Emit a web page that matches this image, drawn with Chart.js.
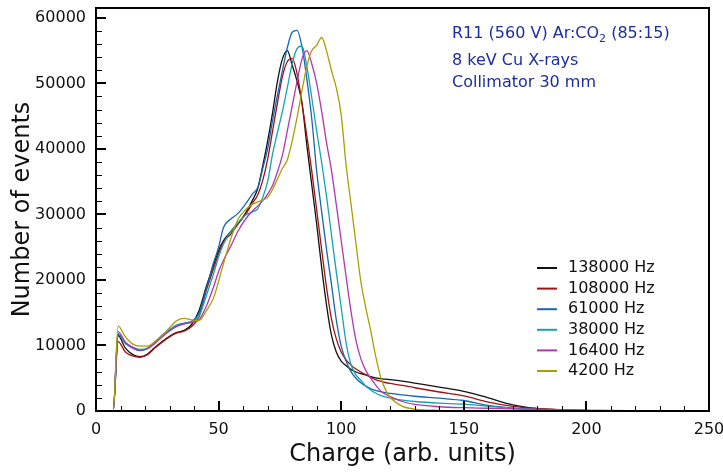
<!DOCTYPE html>
<html>
<head>
<meta charset="utf-8">
<script src="https://cdn.jsdelivr.net/npm/chart.js@4.4.1/dist/chart.umd.min.js"></script>
<style>
  html, body { margin: 0; padding: 0; background: #fff; }
  #wrap { width: 723px; height: 473px; }
</style>
</head>
<body>
<div id="wrap"><canvas id="myChart"></canvas></div>
<script>
// charge axis (arb. units), shared by all series
const charge = [0, 7, 9, 12, 15, 18, 21, 24, 27, 30, 33, 36, 39, 42, 45, 48, 50, 52, 55, 58,
  61, 64, 66, 68, 70, 72, 74, 76, 78, 80, 82, 84, 86, 88, 90, 92, 94, 96, 98, 100,
  102, 104, 106, 108, 110, 112, 114, 116, 118, 120, 125, 130, 140, 150, 160, 170, 180, 190, 200, 220, 250];

const hz138000 = [0, 0, 11500, 9600, 8600, 8300, 8700, 9700, 10600, 11400, 12000, 12300, 13200, 15300, 19000, 22300, 24500, 26000, 27400, 28600,
  30200, 32300, 34000, 37400, 41200, 45500, 50300, 53700, 55000, 52800, 50300, 47000, 40500, 34500, 28500, 22000, 16200, 11600, 9000, 7600,
  6900, 6350, 5950, 5700, 5500, 5250, 5050, 4950, 4850, 4780, 4550, 4250, 3650, 3000, 2000, 950, 380, 150, 70, 20, 0];

const hz108000 = [0, 0, 10600, 9000, 8400, 8200, 8600, 9600, 10500, 11300, 11900, 12200, 12900, 14400, 18400, 21800, 24000, 25800, 27000, 28600,
  30000, 31800, 33000, 35200, 38400, 42700, 47000, 51000, 53300, 53800, 51500, 47000, 42000, 36600, 30700, 24700, 18900, 14100, 11000, 9000,
  7800, 7000, 6400, 5950, 5550, 5150, 4800, 4550, 4350, 4200, 3900, 3550, 2900, 2300, 1350, 700, 350, 180, 90, 30, 0];

const hz61000 = [0, 0, 11700, 10300, 9600, 9200, 9500, 10500, 11600, 12400, 13100, 13400, 13700, 14900, 18700, 22700, 25000, 28000, 29300, 30200,
  31600, 33200, 34100, 37000, 40000, 44300, 48200, 51900, 55400, 57800, 58100, 55600, 50600, 44600, 36600, 30500, 24700, 19400, 13900, 9900,
  7600, 6000, 5000, 4300, 3800, 3400, 3150, 2950, 2800, 2680, 2450, 2250, 1950, 1600, 850, 450, 230, 120, 60, 20, 0];

const hz38000 = [0, 0, 11800, 10400, 9700, 9400, 9600, 10400, 11400, 12300, 13000, 13300, 13600, 14400, 17600, 21000, 23500, 25500, 27400, 28800,
  29900, 30400, 30900, 32600, 35000, 39200, 42500, 45700, 49300, 53000, 55300, 55700, 52500, 47800, 42700, 38000, 32800, 27000, 21200, 15800,
  10400, 7100, 5500, 4700, 3800, 3200, 2750, 2400, 2150, 1950, 1650, 1450, 1200, 1050, 700, 420, 240, 130, 70, 20, 0];

const hz16400 = [0, 0, 12100, 10500, 9700, 9300, 9500, 10300, 11300, 12200, 12900, 13300, 13500, 13900, 16000, 19000, 21300, 23000, 25200, 27500,
  29300, 30600, 31300, 32100, 33100, 34400, 36500, 39000, 42700, 46500, 50300, 53700, 55000, 53000, 50000, 45800, 41000, 36800, 31500, 26000,
  20500, 15200, 10800, 8000, 6200, 5000, 4000, 3100, 2550, 2200, 1450, 1000, 650, 500, 420, 330, 250, 170, 100, 40, 0];

const hz4200 = [0, 0, 13000, 11300, 10200, 9900, 9900, 10600, 11500, 12700, 13800, 14150, 13900, 13800, 15300, 17300, 19800, 22500, 26300, 29300,
  30700, 31600, 31900, 32200, 32600, 33800, 35400, 37000, 38300, 41200, 44800, 48900, 52600, 55000, 55800, 57000, 55000, 52000, 49300, 45200,
  37500, 31600, 25600, 19800, 15800, 12300, 8500, 5300, 3300, 2100, 700, 300, 100, 50, 30, 20, 10, 5, 0, 0, 0];

const seriesLabels = ['138000 Hz', '108000 Hz', '61000 Hz', '38000 Hz', '16400 Hz', '4200 Hz'];
const seriesValues = [hz138000, hz108000, hz61000, hz38000, hz16400, hz4200];
const seriesColors = ['#111111', '#a31212', '#1766b2', '#17a2ac', '#b436ae', '#a9a002'];

const xTicks = [0, 50, 100, 150, 200, 250];
const yTicks = [0, 10000, 20000, 30000, 40000, 50000, 60000];

const annotationLines = ['R11 (560 V) Ar:CO', '8 keV Cu X-rays', 'Collimator 30 mm'];

const FONT = '"DejaVu Sans", "Liberation Sans", sans-serif';

// frame, inward ticks, legend and note drawn on top of the plot
const decorations = {
  id: 'decorations',
  afterDatasetsDraw(chart) {
    const { ctx, chartArea: a, scales: { x, y } } = chart;
    ctx.save();

    // inward ticks
    ctx.strokeStyle = '#000';
    ctx.lineWidth = 1;
    ctx.beginPath();
    for (let v = 0; v <= 250; v += 10) {
      if (v % 50 === 0) continue;
      const px = Math.round(x.getPixelForValue(v)) + 0.5;
      ctx.moveTo(px, a.bottom); ctx.lineTo(px, a.bottom - 5);
    }
    for (let v = 0; v <= 60000; v += 2000) {
      if (v % 10000 === 0) continue;
      const py = Math.round(y.getPixelForValue(v)) + 0.5;
      ctx.moveTo(a.left, py); ctx.lineTo(a.left + 6, py);
    }
    ctx.stroke();
    ctx.lineWidth = 2;
    ctx.beginPath();
    xTicks.forEach(v => {
      const px = Math.round(x.getPixelForValue(v));
      ctx.moveTo(px, a.bottom); ctx.lineTo(px, a.bottom - 10);
    });
    yTicks.forEach(v => {
      const py = Math.round(y.getPixelForValue(v));
      ctx.moveTo(a.left, py); ctx.lineTo(a.left + 10, py);
    });
    ctx.stroke();

    // frame
    ctx.lineWidth = 2;
    ctx.strokeRect(a.left, a.top, a.right - a.left, a.bottom - a.top);

    // legend
    ctx.font = '16px ' + FONT;
    ctx.textBaseline = 'middle';
    ctx.textAlign = 'left';
    seriesLabels.forEach((lab, i) => {
      const ly = 268 + i * 20.6;
      ctx.strokeStyle = seriesColors[i];
      ctx.lineWidth = 2;
      ctx.beginPath();
      ctx.moveTo(537, ly); ctx.lineTo(557, ly);
      ctx.stroke();
      ctx.fillStyle = '#111';
      ctx.fillText(lab, 568, ly);
    });

    // note
    ctx.fillStyle = '#1d2f9c';
    ctx.font = '16px ' + FONT;
    const nx = 452;
    ctx.fillText(annotationLines[0], nx, 34);
    let w = ctx.measureText(annotationLines[0]).width;
    ctx.font = '11px ' + FONT;
    ctx.fillText('2', nx + w, 39);
    w += ctx.measureText('2').width;
    ctx.font = '16px ' + FONT;
    ctx.fillText(' (85:15)', nx + w, 34);
    ctx.fillText(annotationLines[1], nx, 61);
    ctx.fillText(annotationLines[2], nx, 83);

    ctx.restore();
  }
};

const ctx = document.getElementById('myChart').getContext('2d');

const chart = new Chart(ctx, {
  type: 'line',
  data: {
    datasets: seriesLabels.map((lab, i) => ({
      label: lab,
      data: charge.map((c, j) => ({ x: c, y: seriesValues[i][j] })),
      borderColor: seriesColors[i],
      borderWidth: 1.3,
      pointRadius: 0,
      fill: false,
      cubicInterpolationMode: 'monotone'
    })).reverse()
  },
  options: {
    responsive: true,
    maintainAspectRatio: false,
    animation: false,
    layout: { padding: { left: 0, right: 14, top: 8, bottom: 0 } },
    scales: {
      x: {
        type: 'linear',
        min: 0,
        max: 250,
        afterBuildTicks: s => { s.ticks = xTicks.map(v => ({ value: v })); },
        afterFit: s => { s.height = 62; s.paddingLeft = 0; s.paddingRight = 0; },
        ticks: { color: '#111', padding: 9, font: { family: FONT, size: 16 }, callback: v => String(v) },
        grid: { display: false, drawTicks: false },
        border: { display: false },
        title: {
          display: true,
          text: 'Charge (arb. units)',
          color: '#111',
          font: { family: FONT, size: 24 },
          padding: { top: 0, bottom: 4 }
        }
      },
      y: {
        min: 0,
        max: 61500,
        afterBuildTicks: s => { s.ticks = yTicks.map(v => ({ value: v })); },
        afterFit: s => { s.width = 96; s.paddingTop = 0; s.paddingBottom = 0; },
        ticks: { color: '#111', padding: 10, font: { family: FONT, size: 16 }, callback: v => String(v) },
        grid: { display: false, drawTicks: false },
        border: { display: false },
        title: {
          display: true,
          text: 'Number of events',
          color: '#111',
          font: { family: FONT, size: 24 },
          padding: { top: 8, bottom: 0 }
        }
      }
    },
    plugins: {
      legend: { display: false },
      tooltip: { enabled: false }
    }
  },
  plugins: [decorations]
});
</script>
</body>
</html>
